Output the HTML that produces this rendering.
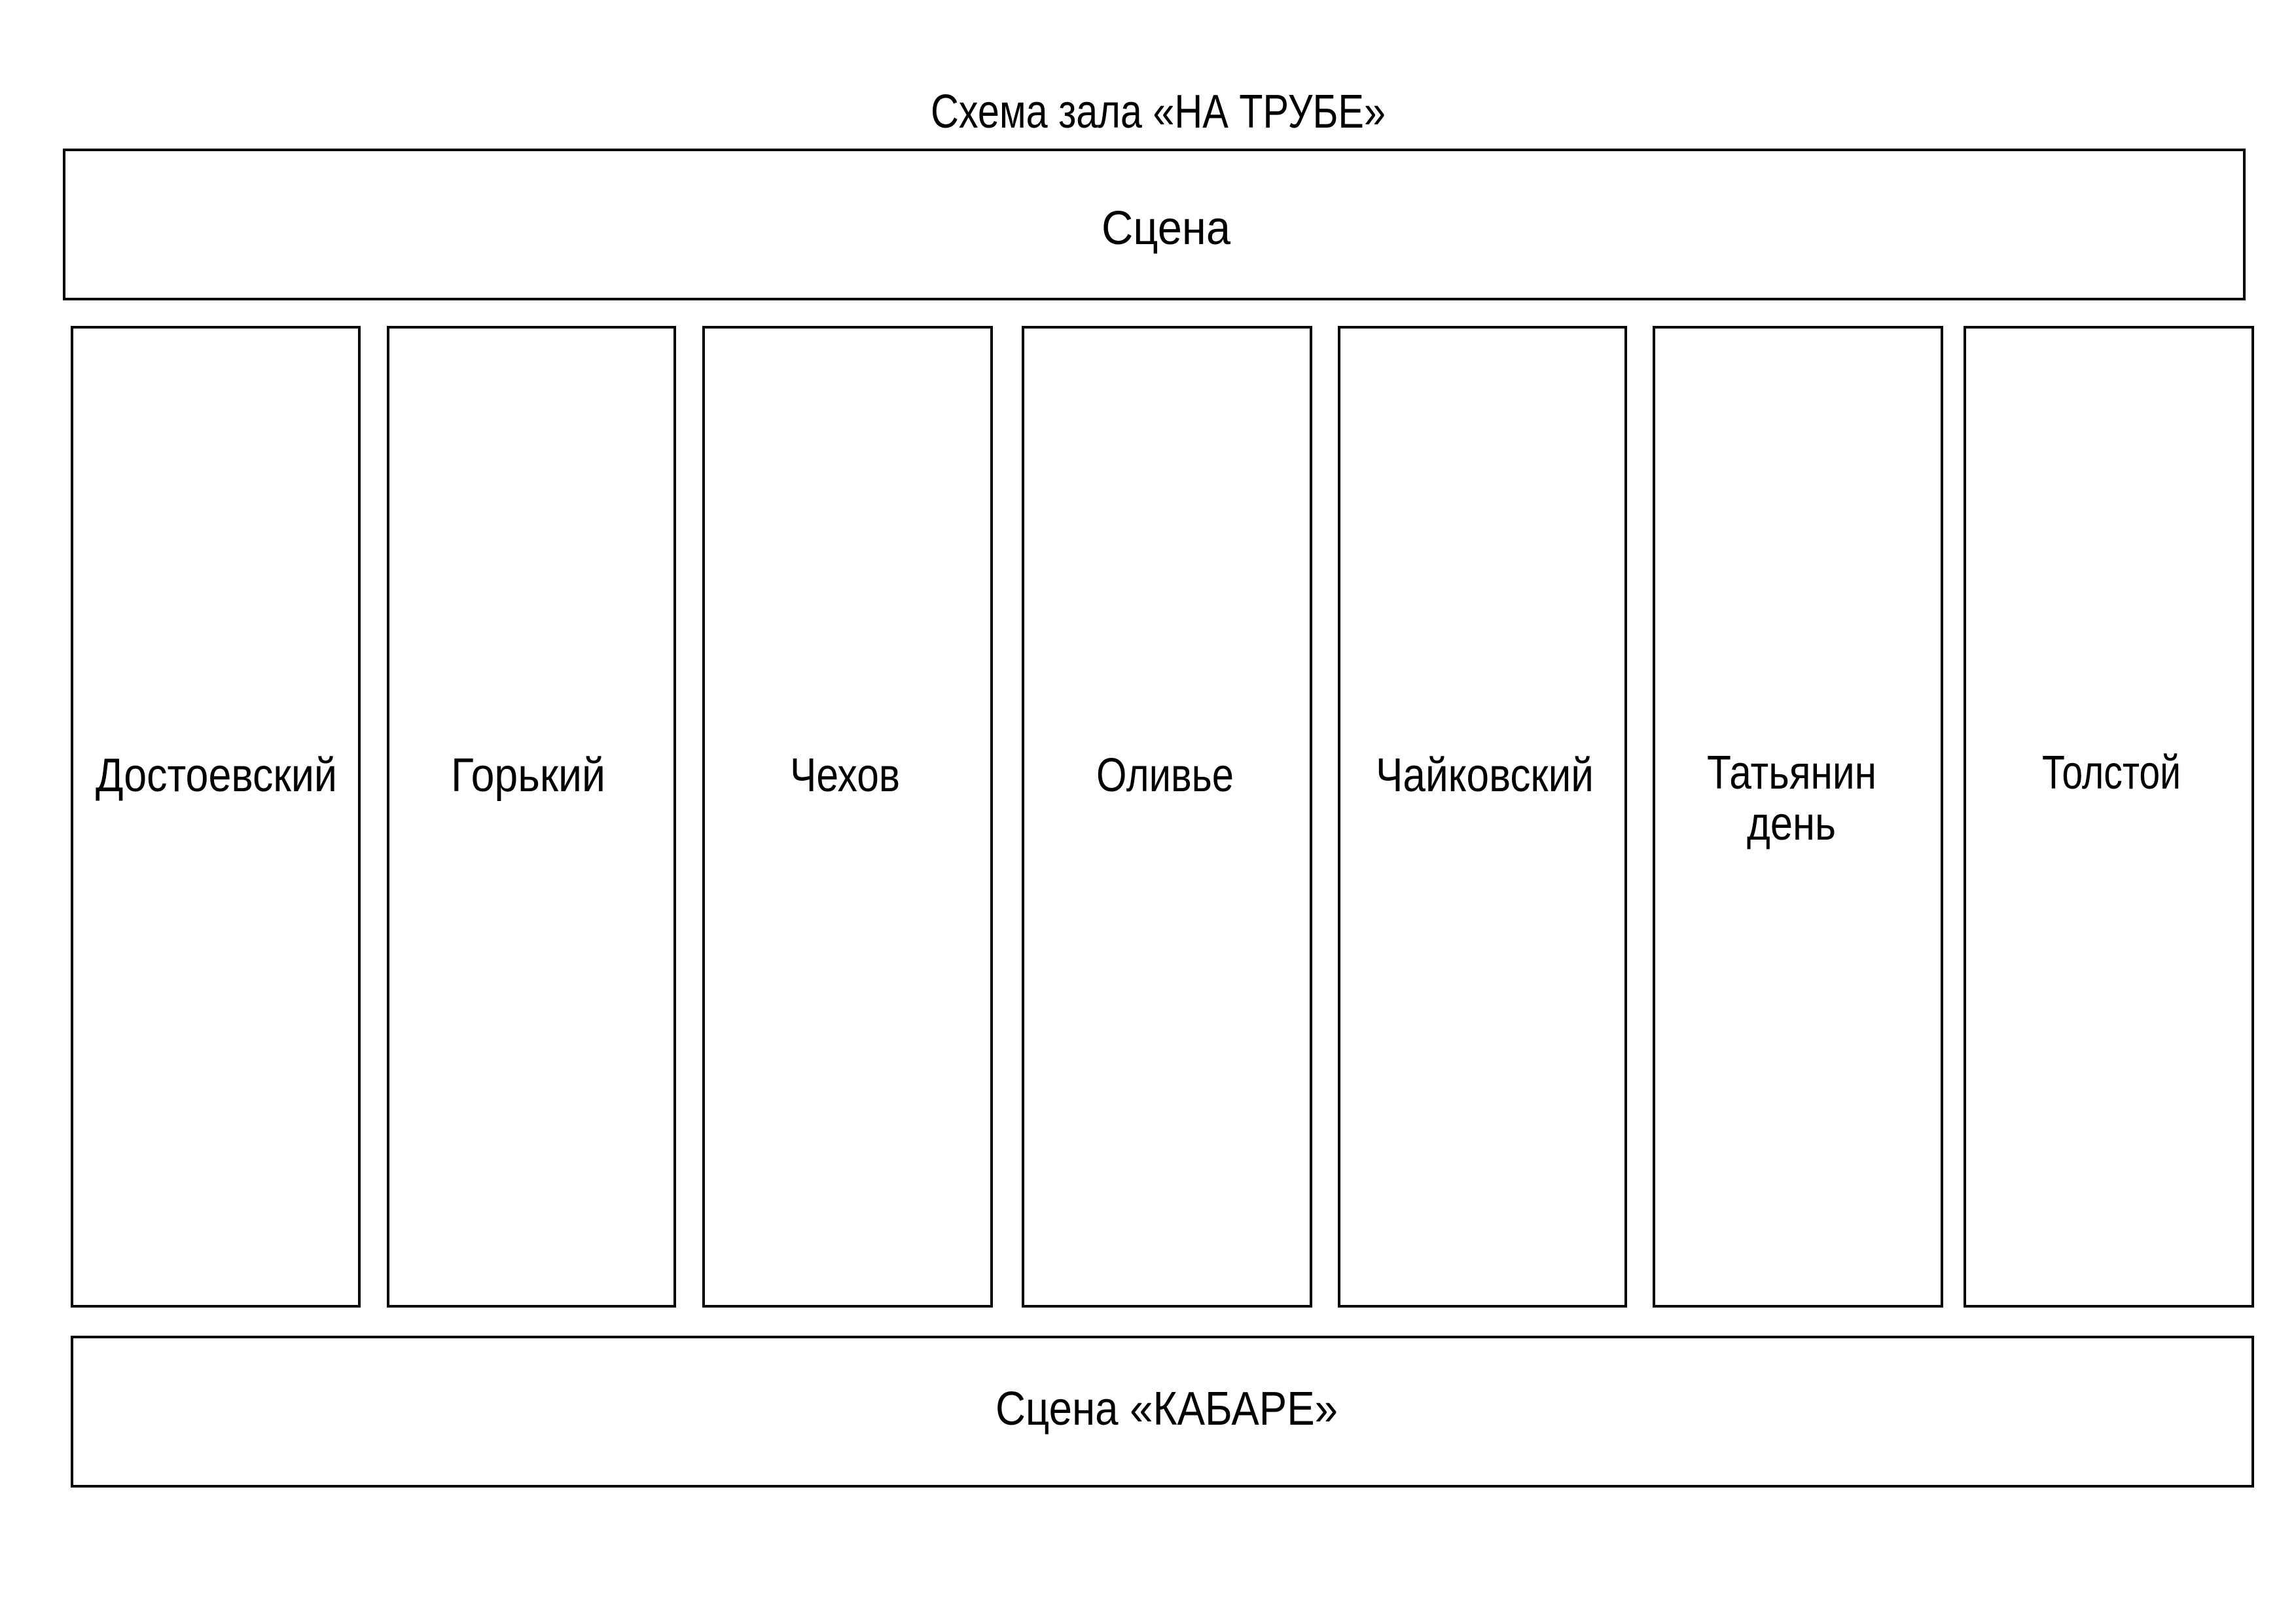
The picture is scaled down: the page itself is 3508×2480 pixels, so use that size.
<!DOCTYPE html>
<html><head><meta charset="utf-8"><style>
html,body{margin:0;padding:0;background:#fff;}
svg{display:block;}
text{font-family:"Liberation Sans",sans-serif;font-size:72px;fill:#000;}
</style></head><body>
<svg width="3508" height="2480" viewBox="0 0 3508 2480" xmlns="http://www.w3.org/2000/svg">
<rect x="0" y="0" width="3508" height="2480" fill="#fff"/>
<g fill="none" stroke="#000" stroke-width="4">
<rect x="98" y="229" width="3331" height="228"/>
<rect x="110" y="500" width="439" height="1496"/>
<rect x="593" y="500" width="438" height="1496"/>
<rect x="1075" y="500" width="440" height="1496"/>
<rect x="1563" y="500" width="440" height="1496"/>
<rect x="2046" y="500" width="438" height="1496"/>
<rect x="2527" y="500" width="440" height="1496"/>
<rect x="3002" y="500" width="440" height="1496"/>
<rect x="110" y="2043" width="3332" height="228"/>
</g>
<text x="1422" y="195" textLength="695" lengthAdjust="spacingAndGlyphs">Схема зала «НА ТРУБЕ»</text>
<text x="1683" y="373" textLength="197" lengthAdjust="spacingAndGlyphs">Сцена</text>
<text x="146" y="1209" textLength="369" lengthAdjust="spacingAndGlyphs">Достоевский</text>
<text x="689" y="1209" textLength="236" lengthAdjust="spacingAndGlyphs">Горький</text>
<text x="1207" y="1209" textLength="168" lengthAdjust="spacingAndGlyphs">Чехов</text>
<text x="1675" y="1209" textLength="210" lengthAdjust="spacingAndGlyphs">Оливье</text>
<text x="2102" y="1209" textLength="333" lengthAdjust="spacingAndGlyphs">Чайковский</text>
<text x="2608" y="1205" textLength="259" lengthAdjust="spacingAndGlyphs">Татьянин</text>
<text x="2669" y="1283" textLength="136" lengthAdjust="spacingAndGlyphs">день</text>
<text x="3120" y="1205" textLength="212" lengthAdjust="spacingAndGlyphs">Толстой</text>
<text x="1521" y="2177" textLength="523" lengthAdjust="spacingAndGlyphs">Сцена «КАБАРЕ»</text>
</svg>
</body></html>
